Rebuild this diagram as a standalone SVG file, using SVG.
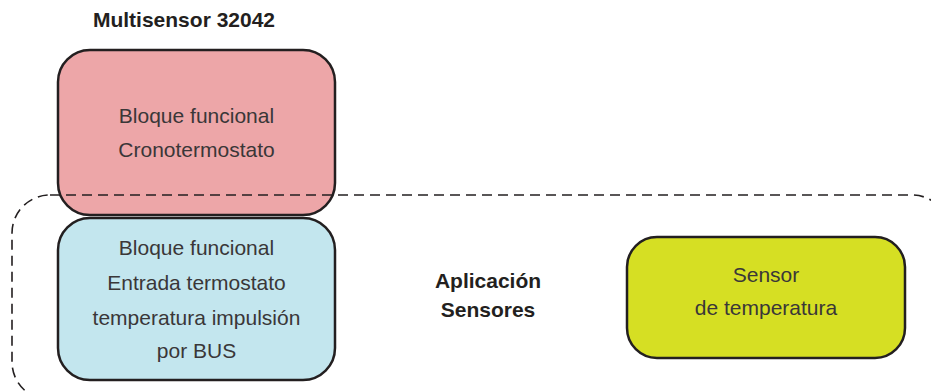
<svg xmlns="http://www.w3.org/2000/svg" width="931" height="392" viewBox="0 0 931 392">
  <style>
    .box { stroke: #231f20; stroke-width: 2.5; }
    .lbl { font-family: "Liberation Sans", Arial, sans-serif; font-size: 21px; fill: #3a3738; text-anchor: middle; }
    .bold { font-family: "Liberation Sans", Arial, sans-serif; font-size: 21px; font-weight: bold; fill: #231f20; text-anchor: middle; }
    .dash { fill: none; stroke: #231f20; stroke-width: 1.6; stroke-dasharray: 10 6; }
  </style>
  <rect width="931" height="392" fill="#ffffff"/>
  <text class="bold" x="184" y="27">Multisensor 32042</text>
  <g id="cronotermostato">
    <rect class="box" x="58" y="50" width="277" height="165" rx="32" fill="#eda6a8"/>
    <text class="lbl" x="196.5" y="123">Bloque funcional</text>
    <text class="lbl" x="196.5" y="157">Cronotermostato</text>
  </g>
  <g id="connectors">
    <rect id="aplicacion-sensores" class="dash" x="12" y="195" width="938" height="205" rx="38"/>
  </g>
  <g id="entrada-termostato">
    <rect class="box" x="58" y="218" width="277" height="162" rx="32" fill="#c3e6ee"/>
    <text class="lbl" x="196.5" y="255">Bloque funcional</text>
    <text class="lbl" x="196.5" y="290">Entrada termostato</text>
    <text class="lbl" x="196.5" y="325">temperatura impulsión</text>
    <text class="lbl" x="196.5" y="358">por BUS</text>
  </g>
  <g id="label-aplicacion">
    <text class="bold" x="488" y="288">Aplicación</text>
    <text class="bold" x="488" y="317">Sensores</text>
  </g>
  <g id="sensor-temperatura">
    <rect class="box" x="627" y="237" width="278" height="121" rx="30" fill="#d6df23"/>
    <text class="lbl" x="766" y="282">Sensor</text>
    <text class="lbl" x="766" y="315">de temperatura</text>
  </g>
</svg>
